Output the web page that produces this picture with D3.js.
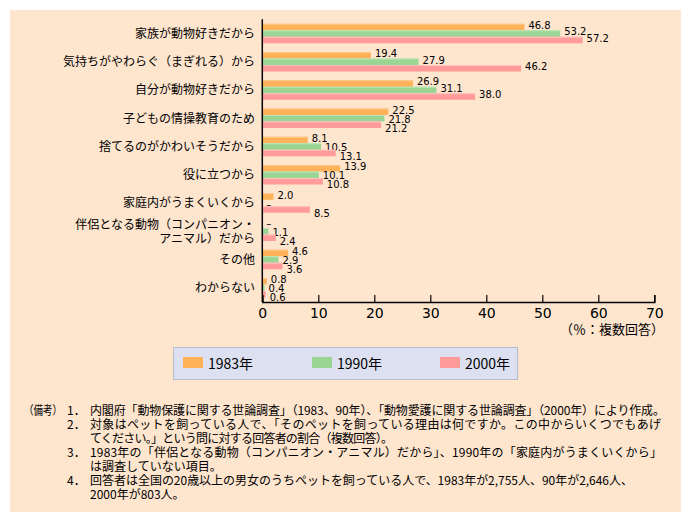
<!DOCTYPE html>
<html><head><meta charset="utf-8">
<script src="https://cdn.jsdelivr.net/npm/d3@7"></script>
<style>
html,body{margin:0;padding:0;background:#fff;}
svg{display:block;}
</style></head>
<body>
<svg id="chart" width="691" height="522"></svg>
<script>
const categories = ["家族が動物好きだから","気持ちがやわらぐ（まぎれる）から","自分が動物好きだから","子どもの情操教育のため","捨てるのがかわいそうだから","役に立つから","家庭内がうまくいくから","伴侶となる動物（コンパニオン・\nアニマル）だから","その他","わからない"];
const seriesNames = ["1983年","1990年","2000年"];
const v1983 = [46.8,19.4,26.9,22.5,8.1,13.9,2.0,null,4.6,0.8];
const v1990 = [53.2,27.9,31.1,21.8,10.5,10.1,null,1.1,2.9,0.4];
const v2000 = [57.2,46.2,38.0,21.2,13.1,10.8,8.5,2.4,3.6,0.6];
const xTicks = [0,10,20,30,40,50,60,70];
const unitLabel = "（％：複数回答）";
const notes = [
  ["（備考）", "1．", "内閣府「動物保護に関する世論調査」（1983、90年）、「動物愛護に関する世論調査」（2000年）により作成。"],
  ["", "2．", "対象はペットを飼っている人で、「そのペットを飼っている理由は何ですか。この中からいくつでもあげ"],
  ["", "", "てください。」という問に対する回答者の割合（複数回答）。"],
  ["", "3．", "1983年の「伴侶となる動物（コンパニオン・アニマル）だから」、1990年の「家庭内がうまくいくから」"],
  ["", "", "は調査していない項目。"],
  ["", "4．", "回答者は全国の20歳以上の男女のうちペットを飼っている人で、1983年が2,755人、90年が2,646人、"],
  ["", "", "2000年が803人。"]
];
const noteWidths = [575, 571, 303, 572, null, 543, null];

const colors = ["#FFB257","#9AD594","#FF9C9A"];
const topColors = ["#FFC98C","#BFE6B8","#FFC2BE"];
const series = [v1983, v1990, v2000];

const svg = d3.select("#chart");
const jp = "'Noto Sans CJK JP','Noto Sans',sans-serif";
const num = "'DejaVu Sans',sans-serif";

svg.append("rect").attr("x",10).attr("y",10).attr("width",671).attr("height",502).attr("fill","#FEE5CE");

const x = d3.scaleLinear().domain([0,70]).range([262.3,654.3]);
const y = d3.scaleBand().domain(categories).range([19.3,302]).paddingInner(0.31).paddingOuter(0.16);
const ys = d3.scaleBand().domain(d3.range(3)).range([0, y.bandwidth()]);

const g = svg.append("g");
const labelW = 22;
categories.forEach((c,i)=>{
  const vals = series.map(s=>s[i]);
  const lx = vals.map(v => x(v === null ? 0 : v) + 4);
  // spread labels vertically when neighbours would collide horizontally
  let crowded = false;
  for (let j=0;j<2;j++) if (Math.abs(lx[j]-lx[j+1]) < labelW) crowded = true;
  const gc = y(c) + y.bandwidth()/2;
  vals.forEach((v,j)=>{
    const by = y(c) + ys(j);
    const bh = ys.bandwidth();
    if (v !== null) {
      g.append("rect").attr("x",x(0)).attr("y",by).attr("width",x(v)-x(0)).attr("height",bh).attr("fill",colors[j]);
      g.append("rect").attr("x",x(0)).attr("y",by).attr("width",x(v)-x(0)).attr("height",1).attr("fill",topColors[j]);
    }
    const baseline = crowded ? gc + 1 + (j-1)*9 + 3.6 : by + bh - 1.5 + (v === null ? 2 : 0);
    g.append("text")
      .attr("x", lx[j])
      .attr("y", baseline)
      .attr("font-family", num).attr("font-size", 10).attr("fill","#000")
      .text(v === null ? "–" : v.toFixed(1));
  });
});

// category labels
categories.forEach(c=>{
  const lines = c.split("\n");
  const cy = y(c) + y.bandwidth()/2;
  lines.forEach((ln,k)=>{
    const off = (k - (lines.length-1)/2) * 14;
    svg.append("text").attr("x",255).attr("y",cy+off).attr("dy","0.36em")
      .attr("text-anchor","end").attr("font-family",jp).attr("font-size",12).attr("fill","#000").text(ln);
  });
});

// y axis line
svg.append("line").attr("x1",x(0)).attr("x2",x(0)).attr("y1",y.range()[0]).attr("y2",y.range()[1])
  .attr("stroke","#000").attr("stroke-width",1.5);

// x axis
const xa = svg.append("g").attr("transform",`translate(0,${y.range()[1]})`)
  .call(d3.axisBottom(x).tickValues(xTicks).tickFormat(d3.format("d")).tickSizeInner(-7).tickSizeOuter(-7).tickPadding(6));
xa.select(".domain").attr("stroke","#000").attr("stroke-width",1.5);
xa.selectAll(".tick line").attr("stroke","#000").attr("stroke-width",1.2);
xa.selectAll(".tick text").attr("font-family",num).attr("font-size",14).attr("fill","#000");

svg.append("text").attr("x",664).attr("y",334).attr("text-anchor","end")
  .attr("font-family",jp).attr("font-size",13).attr("fill","#000").text(unitLabel);

// legend
svg.append("rect").attr("x",173.5).attr("y",347.5).attr("width",344).attr("height",32)
  .attr("fill","#DDE0F0").attr("stroke","#B4BECC").attr("stroke-width",1);
const legX = [183,312,440];
seriesNames.forEach((n,j)=>{
  svg.append("rect").attr("x",legX[j]).attr("y",357).attr("width",20).attr("height",11).attr("fill",colors[j]);
  svg.append("text").attr("x",legX[j]+25).attr("y",368.5).attr("font-family",jp).attr("font-size",14).attr("fill","#000").text(n);
});

// notes
notes.forEach((row,i)=>{
  const by = 414.5 + i*14;
  if (row[0]) svg.append("text").attr("x",24).attr("y",by).attr("font-family",jp).attr("font-size",12).attr("fill","#000")
    .attr("textLength",38).attr("lengthAdjust","spacingAndGlyphs").text(row[0]);
  if (row[1]) svg.append("text").attr("x",67).attr("y",by).attr("font-family",jp).attr("font-size",12).attr("fill","#000").text(row[1]);
  const t = svg.append("text").attr("x",90).attr("y",by).attr("font-family",jp).attr("font-size",12).attr("fill","#000").text(row[2]);
  if (noteWidths[i]) t.attr("textLength",noteWidths[i]).attr("lengthAdjust","spacing");
});
</script>
</body></html>
